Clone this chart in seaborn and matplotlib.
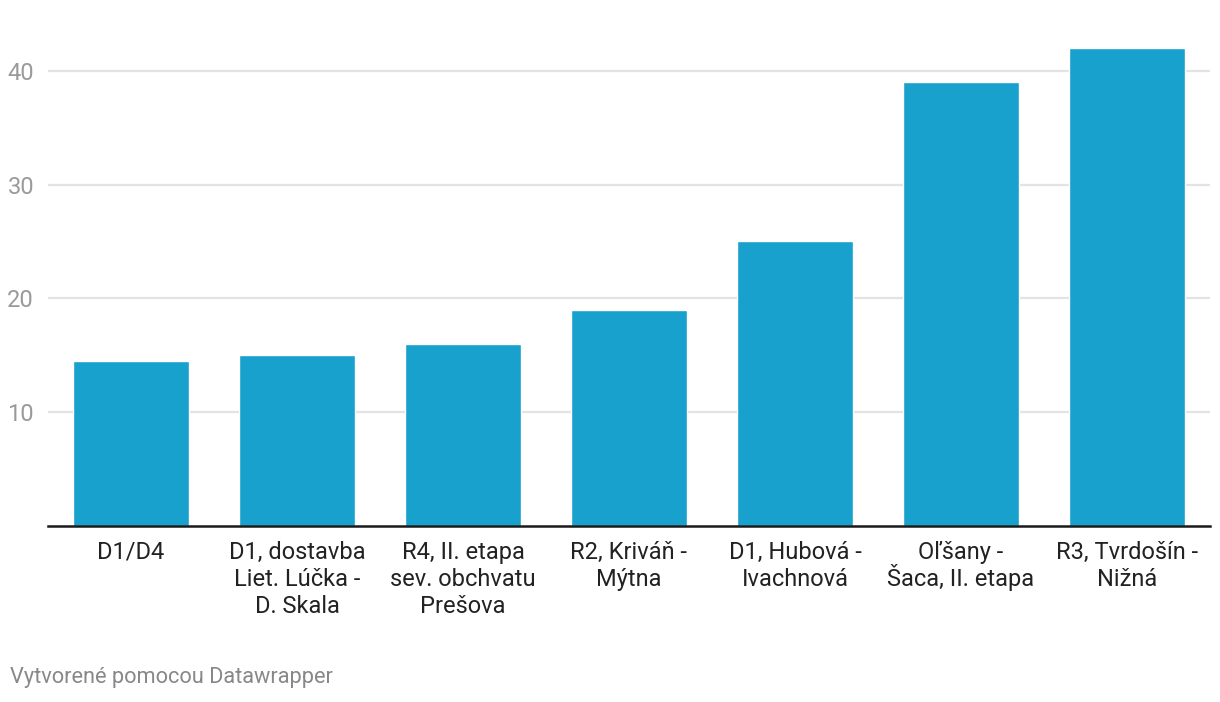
import matplotlib
matplotlib.use("Agg")
import matplotlib.pyplot as plt
import seaborn as sns
import pandas as pd

categories = [
    "D1/D4",
    "D1, dostavba\nLiet. Lúčka -\nD. Skala",
    "R4, II. etapa\nsev. obchvatu\nPrešova",
    "R2, Kriváň -\nMýtna",
    "D1, Hubová -\nIvachnová",
    "Oľšany -\nŠaca, II. etapa",
    "R3, Tvrdošín -\nNižná",
]
values = [14.5, 15, 16, 19, 25, 39, 42]
yticks = [10, 20, 30, 40]

sns.set_theme(style="white")
plt.rcParams["font.family"] = ["Roboto", "DejaVu Sans"]

df = pd.DataFrame({"cat": categories, "val": values})

fig = plt.figure(figsize=(12.2, 7.02), dpi=100)
ax = fig.add_axes([48 / 1220, 176.3 / 702, (1210 - 48) / 1220, (688 - 176.3) / 702])

sns.barplot(data=df, x="cat", y="val", color="#18a1cd", width=0.7,
            saturation=1, ax=ax, zorder=3)

ax.set_xlim(-0.5, 6.5)
ax.set_ylim(0, 45)
ax.set_yticks(yticks)
ax.set_yticklabels([str(t) for t in yticks])
ax.yaxis.grid(True, color="#e3e3e3", linewidth=1.6, zorder=0)
ax.xaxis.grid(False)
for s in ["top", "right", "left"]:
    ax.spines[s].set_visible(False)
ax.spines["bottom"].set_color("#1a1a1a")
ax.spines["bottom"].set_linewidth(1.8)
ax.spines["bottom"].set_zorder(5)
ax.set_xlabel("")
ax.set_ylabel("")
ax.tick_params(axis="y", length=0, pad=10, labelsize=17, labelcolor="#9a9a9a")
ax.tick_params(axis="x", length=0, pad=11, labelsize=17, labelcolor="#222222")
for lab in ax.get_xticklabels():
    # accented capitals at a line start make matplotlib push that line down
    if "\nŠ" in lab.get_text():
        lab.set_linespacing(1.0)
    else:
        lab.set_linespacing(1.22)
    lab.set_verticalalignment("top")

fig.text(10 / 1220, 1 - 678 / 702, "Vytvorené pomocou Datawrapper",
         fontsize=15.7, color="#888888", ha="left", va="center")

fig.savefig("out.png", dpi=100, facecolor="white")
